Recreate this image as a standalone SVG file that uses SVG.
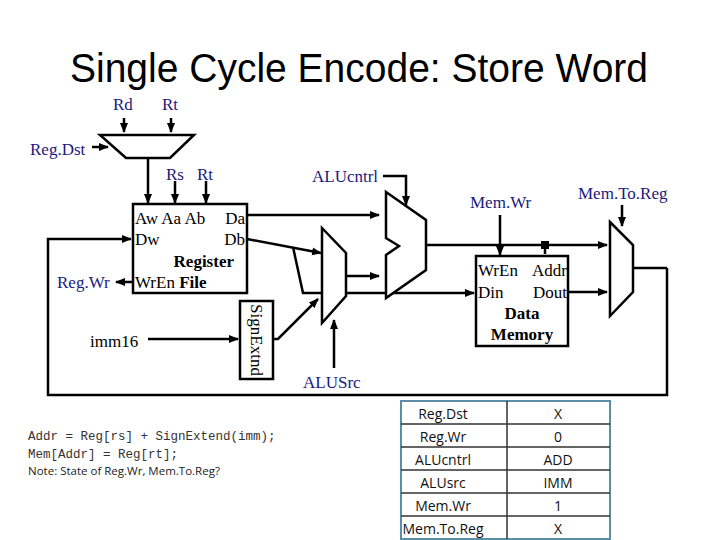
<svg xmlns="http://www.w3.org/2000/svg" width="720" height="540" viewBox="0 0 720 540">
<style>
.w{stroke:#000;stroke-width:2.5;fill:none}
.b{stroke:#000;stroke-width:2.5;fill:#fff}
.l{font-family:"Liberation Serif",serif;font-size:17px;fill:#1a1a80}
.t{font-family:"Liberation Serif",serif;font-size:17px;fill:#000}
.tb{font-family:"Liberation Serif",serif;font-size:17px;font-weight:bold;fill:#000}
.m{font-family:"Liberation Mono",monospace;font-size:12.5px;fill:#333}
.s{font-family:"Open Sans",sans-serif;font-size:11.5px;fill:#222}
.c{font-family:"Open Sans",sans-serif;font-size:14px;fill:#111;text-anchor:middle}
</style>
<defs><marker id="a" viewBox="0 0 10 10" refX="9" refY="5" markerWidth="4" markerHeight="4" orient="auto"><path d="M0,1L10,5L0,9Z" fill="#000"/></marker></defs>
<rect width="720" height="540" fill="#fff"/>
<text x="359" y="82" text-anchor="middle" font-family="Liberation Sans,sans-serif" font-size="40" textLength="578" lengthAdjust="spacingAndGlyphs">Single Cycle Encode: Store Word</text>
<g id="labels">
<text class="l" x="113" y="110">Rd</text><text class="l" x="162" y="110">Rt</text>
<text class="l" x="30" y="155">Reg.Dst</text>
<text class="l" x="166" y="180">Rs</text><text class="l" x="197" y="180">Rt</text>
<text class="l" x="312" y="182">ALUcntrl</text>
<text class="l" x="470" y="208">Mem.Wr</text>
<text class="l" x="578" y="199">Mem.To.Reg</text>
<text class="l" x="57" y="288">Reg.Wr</text>
<text class="t" x="90" y="347">imm16</text>
<text class="l" x="303" y="388">ALUSrc</text>
</g>
<g id="connectors" class="w">
<path d="M124,118V132" marker-end="url(#a)"/><path d="M171,118V132" marker-end="url(#a)"/>
<path d="M92,147H108" marker-end="url(#a)"/>
<path d="M148,158V203" marker-end="url(#a)"/>
<path d="M175,181V203" marker-end="url(#a)"/><path d="M206,181V203" marker-end="url(#a)"/>
<path d="M247,215H379" marker-end="url(#a)"/>
<path d="M247,239L321,253" marker-end="url(#a)"/>
<path d="M293,247L303,293H474" marker-end="url(#a)"/>
<path d="M133,282H116" marker-end="url(#a)"/>
<path d="M667,268V395H48V239H131" marker-end="url(#a)"/>
<path d="M633,268H667"/>
<path d="M148,339H238" marker-end="url(#a)"/>
<path d="M273,339H278L318,299" marker-end="url(#a)"/>
<path d="M334,368V320" marker-end="url(#a)"/>
<path d="M346,276H379" marker-end="url(#a)"/>
<path d="M383,176H406V205" marker-end="url(#a)"/>
<path d="M426,245H607" marker-end="url(#a)"/>
<path d="M545,245V254"/>
<path d="M500,215V255" marker-end="url(#a)"/>
<path d="M568,292H607" marker-end="url(#a)"/>
<path d="M622,205V226" marker-end="url(#a)"/>
<rect x="541" y="241" width="8" height="8" fill="#000" stroke="none"/>
</g>
<g id="regdst-mux"><path class="b" d="M100,135H194L170,158H126Z"/></g>
<g id="regfile"><rect class="b" x="133" y="204" width="114" height="89"/>
<text class="t" x="135" y="224">Aw Aa Ab</text><text class="t" x="245" y="224" text-anchor="end">Da</text>
<text class="t" x="135" y="245">Dw</text><text class="t" x="245" y="245" text-anchor="end">Db</text>
<text class="tb" x="234" y="267" text-anchor="end">Register</text>
<text class="t" x="135" y="288">WrEn <tspan font-weight="bold">File</tspan></text></g>
<g id="signext"><rect class="b" x="240" y="301" width="33" height="78"/>
<text class="t" transform="translate(251,340) rotate(90)" text-anchor="middle">SignExtnd</text></g>
<g id="alusrc-mux"><path class="b" d="M322,228L346,253V296L322,323Z"/></g>
<g id="alu"><path class="b" d="M386,192L426,220V270L386,298V255L399,246L386,238Z"/></g>
<g id="datamem"><rect class="b" x="476" y="256" width="92" height="90"/>
<text class="t" x="478" y="276">WrEn</text><text class="t" x="567" y="276" text-anchor="end">Addr</text>
<text class="t" x="478" y="298">Din</text><text class="t" x="567" y="298" text-anchor="end">Dout</text>
<text class="tb" x="522" y="319" text-anchor="middle">Data</text>
<text class="tb" x="522" y="340" text-anchor="middle">Memory</text></g>
<g id="memtoreg-mux"><path class="b" d="M610,222L633,245V292L610,316Z"/></g>
<g id="code">
<text class="m" x="28" y="440">Addr = Reg[rs] + SignExtend(imm);</text>
<text class="m" x="28" y="458">Mem[Addr] = Reg[rt];</text>
<text class="s" x="28" y="475">Note: State of Reg.Wr, Mem.To.Reg?</text>
</g>
<g id="table">
<rect x="401" y="401" width="209" height="138" fill="#fff" stroke="#5b8ea6" stroke-width="2"/>
<path d="M507,401V539M401,424H610M401,447H610M401,470H610M401,493H610M401,516H610" stroke="#333" stroke-width="1.5"/>
<text class="c" x="443" y="419">Reg.Dst</text><text class="c" x="558" y="419">X</text>
<text class="c" x="443" y="442">Reg.Wr</text><text class="c" x="558" y="442">0</text>
<text class="c" x="443" y="465">ALUcntrl</text><text class="c" x="558" y="465">ADD</text>
<text class="c" x="443" y="488">ALUsrc</text><text class="c" x="558" y="488">IMM</text>
<text class="c" x="443" y="511">Mem.Wr</text><text class="c" x="558" y="511">1</text>
<text class="c" x="443" y="534">Mem.To.Reg</text><text class="c" x="558" y="534">X</text>
</g>
</svg>
